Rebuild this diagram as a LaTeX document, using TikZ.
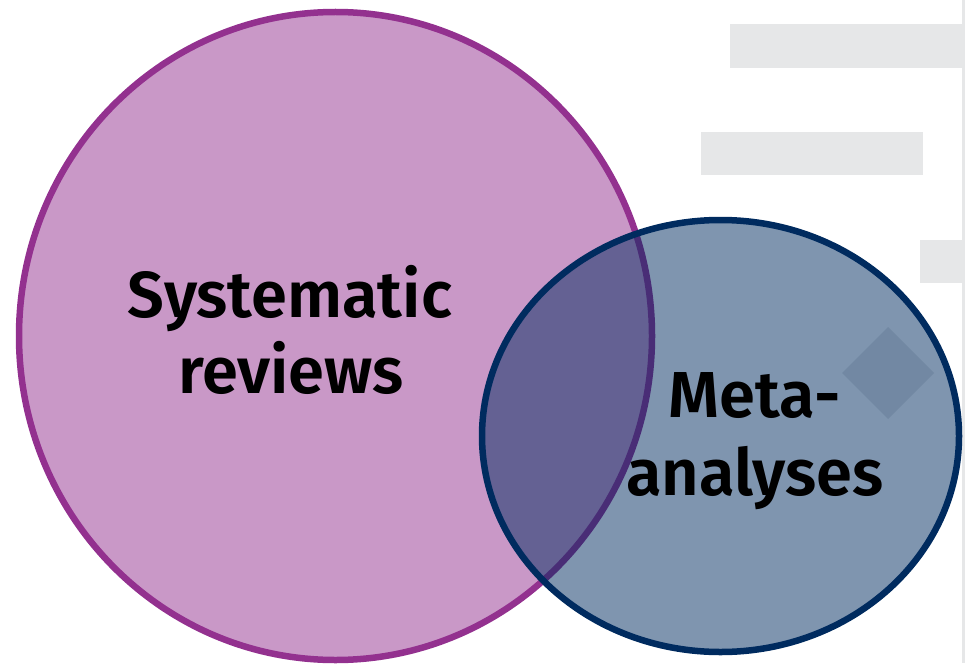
\documentclass[tikz,border=0pt]{standalone}
\usepackage{fontspec}
\newfontfamily\lblfont{Fira Sans SemiBold}
\definecolor{purp}{HTML}{93318F}
\definecolor{navy}{HTML}{002B5F}
\definecolor{barg}{HTML}{E6E7E8}
\tikzset{
  bar/.style={fill=barg, draw=none},
  lbl/.style={font=\lblfont\fontsize{65}{75}\selectfont, text=black, align=center, inner sep=0pt},
}
\begin{document}
\begin{tikzpicture}[x=1pt,y=-1pt]
\useasboundingbox (0,0) rectangle (965,663);
% background bars
\fill[barg] (962,0) rectangle (965,663);
\fill[bar] (730,24) rectangle (962,68);
\fill[bar] (701,132) rectangle (923,175);
\fill[bar] (920,240) rectangle (962,283);
\fill[barg] (888,327) -- (934,373) -- (888,419) -- (842,373) -- cycle;
% big ellipse
\draw[purp, line width=6.5pt, fill=purp, fill opacity=0.5, draw opacity=1] (335.5,336) ellipse [x radius=316.5, y radius=324];
% small ellipse
\draw[navy, line width=6.5pt, fill=navy, fill opacity=0.5, draw opacity=1] (720.5,436) ellipse [x radius=238.5, y radius=216];
% labels
\node[lbl, anchor=base] (sys) at (290,317) {Systematic};
\node[lbl, anchor=base] (rev) at (291,393) {reviews};
\node[lbl, anchor=base] (meta) at (755,417) {Meta-};
\node[lbl, anchor=base] (ana) at (755,495) {analyses};
\end{tikzpicture}
\end{document}
